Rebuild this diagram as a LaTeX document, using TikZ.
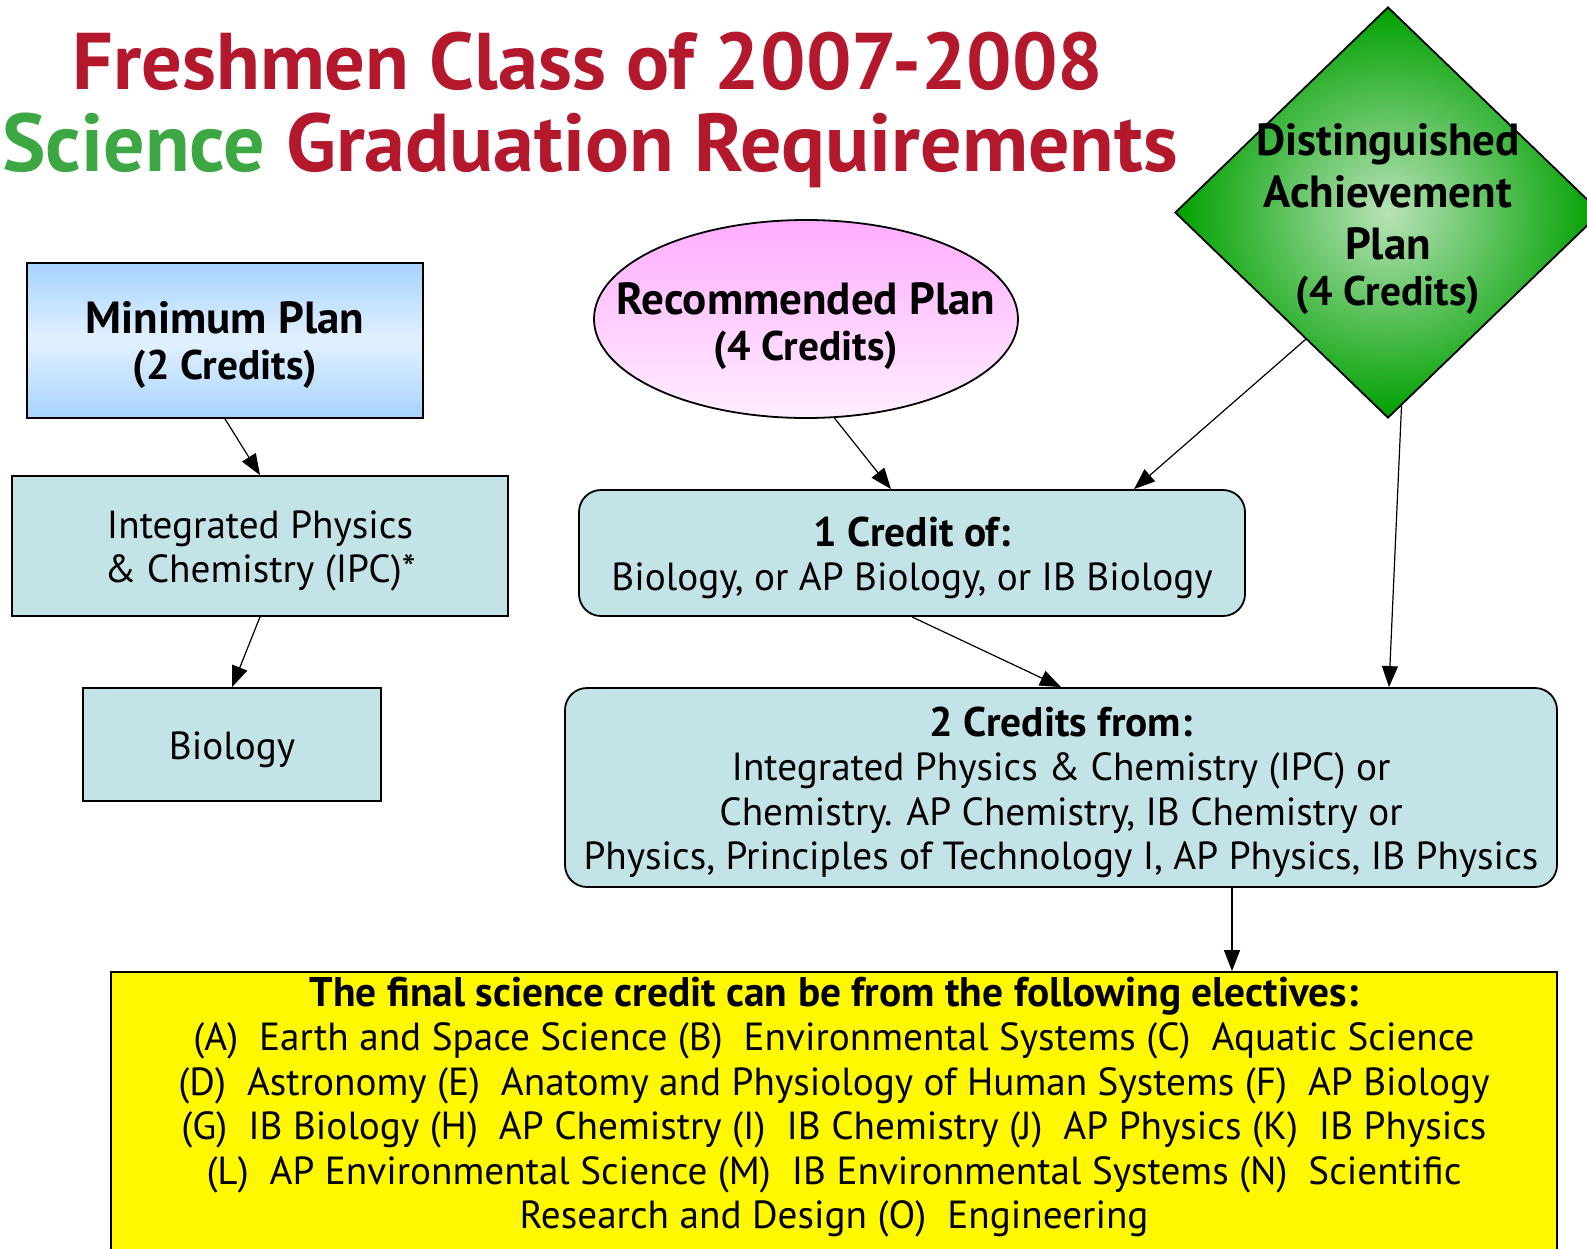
\documentclass[tikz,border=0pt]{standalone}
\usepackage{fontspec}
\setmainfont{PT Sans}
\usepackage{tikz}
\usetikzlibrary{shapes.geometric,arrows.meta}
\definecolor{titlered}{HTML}{B3182D}
\definecolor{titlegreen}{HTML}{3DA843}
\definecolor{boxteal}{HTML}{C4E3E7}
\definecolor{minblue}{HTML}{A6D3FF}
\definecolor{minlight}{HTML}{E3F1FF}
\definecolor{recpink}{HTML}{FFADFF}
\definecolor{reclight}{HTML}{FFEEFF}
\definecolor{distgreen}{HTML}{00A000}
\definecolor{distlight}{HTML}{B8E3B8}
\definecolor{electyellow}{HTML}{FFF800}
\pgfdeclarelayer{edgelayer}
\pgfdeclarelayer{nodelayer}
\pgfsetlayers{edgelayer,nodelayer,main}
\newcommand{\bodyfont}{\fontsize{19.6}{22.25}\selectfont}
\newcommand{\boldbody}{\fontsize{20.7}{22.25}\selectfont\bfseries}
\newcommand{\headfont}{\fontsize{22.5}{24}\selectfont\bfseries}
\newcommand{\subfont}{\fontsize{20.7}{22}\selectfont\bfseries}
\tikzstyle{plainbox}=[rectangle, draw=black, fill=boxteal, line width=0.9pt, inner sep=0pt]
\tikzstyle{roundbox}=[plainbox, rounded corners=11pt]
\tikzstyle{boxtext}=[align=center, inner sep=0pt, font=\bodyfont, yshift=-2.5pt]
\tikzstyle{arrow}=[-{Triangle[length=10.5pt,width=8pt]}, draw=black, line width=0.6pt]

\begin{document}
\begin{tikzpicture}[x=0.5pt, y=-0.5pt]
            \useasboundingbox (0,0) rectangle (1587,1249);
            \begin{pgfonlayer}{nodelayer}
                \node [text=titlered, font=\fontsize{40.2}{44}\selectfont\bfseries] (titleA) at (588,61) {Freshmen Class of 2007-2008};
                \node [text=titlered, font=\fontsize{41}{44}\selectfont\bfseries] (titleB) at (590,150) {\textcolor{titlegreen}{Science} Graduation Requirements};

                \node [style=plainbox, minimum width=198pt, minimum height=77.5pt, top color=minblue, bottom color=minblue, middle color=minlight,
                       label={[boxtext, font=\headfont]center:{Minimum Plan\\[-1pt] \subfont (2 Credits)}}] (minplan) at (225,340.5) {};
                \node [style=plainbox, minimum width=248pt, minimum height=70pt,
                       label={[boxtext]center:{Integrated Physics\\ \& Chemistry (IPC)*}}] (ipc) at (260,546) {};
                \node [style=plainbox, minimum width=149pt, minimum height=56.5pt,
                       label={[boxtext]center:Biology}] (bio) at (232,744.5) {};

                \node [ellipse, draw=black, line width=0.9pt, inner sep=0pt, minimum width=212pt, minimum height=99pt, top color=recpink, bottom color=reclight] (recplan) at (806,319) {};
                \node [align=center, font=\headfont] (reclabel) at (806,326) {Recommended Plan\\[-1pt] \subfont (4 Credits)};

                \node [diamond, draw=black, line width=0.9pt, inner sep=0pt, minimum width=213pt, minimum height=205.5pt, inner color=distlight, outer color=distgreen] (distplan) at (1388,212.5) {};
                \node [align=center, font=\headfont] (distlabel) at (1388,219) {Distinguished\\[2pt] Achievement\\[2pt] Plan\\[-1pt] \subfont (4 Credits)};

                \node [style=roundbox, minimum width=333pt, minimum height=63pt,
                       label={[boxtext]center:{\boldbody 1 Credit of:\\ Biology, or AP Biology, or IB Biology}}] (onecredit) at (912,553) {};
                \node [style=roundbox, minimum width=496pt, minimum height=99.5pt,
                       label={[boxtext]center:{\boldbody 2 Credits from:\\ Integrated Physics \& Chemistry (IPC) or\\ Chemistry. AP Chemistry, IB Chemistry or\\ Physics, Principles of Technology I, AP Physics, IB Physics}}] (twocredit) at (1061,787.5) {};

                \node [style=plainbox, fill=electyellow, minimum width=723pt, minimum height=146.5pt] (electives) at (834,1118.5) {};
                \node [align=center, font=\bodyfont] (electext) at (834,1107) {\boldbody The final science credit can be from the following electives:\\ (A)\ \ Earth and Space Science (B)\ \ Environmental Systems (C)\ \ Aquatic Science\\ (D)\ \ Astronomy (E)\ \ Anatomy and Physiology of Human Systems (F)\ \ AP Biology\\ (G)\ \ IB Biology (H)\ \ AP Chemistry (I)\ \ IB Chemistry (J)\ \ AP Physics (K)\ \ IB Physics\\ (L)\ \ AP Environmental Science (M)\ \ IB Environmental Systems (N)\ \ Scientific\\ Research and Design (O)\ \ Engineering};
            \end{pgfonlayer}
            \begin{pgfonlayer}{edgelayer}
                \draw [style=arrow] (minplan.south) to (ipc.north);
                \draw [style=arrow] (ipc.south) to (bio.north);

                \draw [style=arrow] (recplan.-74) to ([xshift=-10.5pt]onecredit.north);
                \draw [style=arrow] (distplan.237) to ([xshift=111pt]onecredit.north);
                \draw [style=arrow] (distplan.-86) to ([xshift=164pt]twocredit.north);
                \draw [style=arrow] (onecredit.south) to (twocredit.north);
                \draw [style=arrow] ([xshift=85.5pt]twocredit.south) to ([xshift=85.5pt]twocredit.south |- electives.north);
            \end{pgfonlayer}
        \end{tikzpicture}
\end{document}
